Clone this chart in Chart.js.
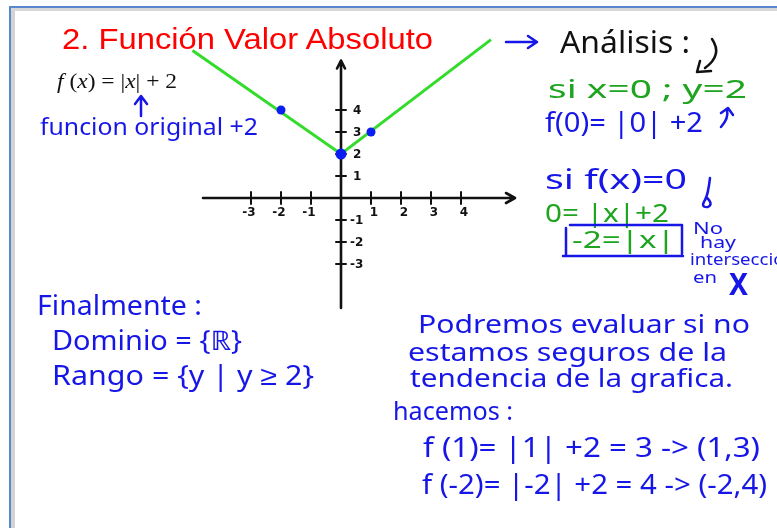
<!DOCTYPE html>
<html>
<head>
<meta charset="utf-8">
<script src="https://cdn.jsdelivr.net/npm/chart.js@4.4.1/dist/chart.umd.min.js"></script>
<style>
html, body { margin: 0; padding: 0; background: #fff; }
#wrap { position: relative; width: 777px; height: 528px; overflow: hidden; background: #fff; }
#board { position: absolute; left: 0; top: 0; }
#notes { position: absolute; left: 0; top: 0; pointer-events: none; }
.hand { font-family: "Noto Sans", sans-serif; }
.blue { fill: #1616e6; }
.green { fill: #1fa41f; }
.ink { fill: none; stroke-linecap: round; stroke-linejoin: round; }
</style>
</head>
<body>
<div id="wrap">
<canvas id="board" width="777" height="528"></canvas>
<svg id="notes" width="777" height="528" xmlns="http://www.w3.org/2000/svg">
  <!-- marco de la pizarra -->
  <line x1="10" y1="6" x2="10" y2="528" stroke="#5a88cf" stroke-width="2"/>
  <line x1="9" y1="7" x2="777" y2="7" stroke="#5a88cf" stroke-width="2"/>
  <line x1="13" y1="9" x2="13" y2="528" stroke="#d3d3d3" stroke-width="4"/>
  <line x1="11" y1="9.5" x2="777" y2="9.5" stroke="#d8d8d8" stroke-width="3"/>

  <text x="62" y="49" font-family="Liberation Sans" font-size="29" fill="#ff0000" textLength="371" lengthAdjust="spacingAndGlyphs">2. Función Valor Absoluto</text>
  <text x="57" y="88" font-family="Liberation Serif" font-size="21" fill="#111" textLength="120" lengthAdjust="spacingAndGlyphs"><tspan font-style="italic">f</tspan> (<tspan font-style="italic">x</tspan>) = |<tspan font-style="italic">x</tspan>| + 2</text>
  <path class="ink" d="M141 116 L141 97 M135 104 L141 96 L147 104" stroke="#1616e6" stroke-width="2.5"/>
  <text class="hand blue" x="40" y="135" font-size="23" textLength="218" lengthAdjust="spacingAndGlyphs">funcion original +2</text>

  <path class="ink" d="M506 42 L536 42 M528 36 L537 42 L528 48" stroke="#1616e6" stroke-width="2.5"/>
  <text class="hand" x="560" y="53" font-size="31" fill="#111" textLength="130" lengthAdjust="spacingAndGlyphs">Análisis :</text>
  <path class="ink" d="M712 39 Q723 55 705 68 M700 61 L697 72 L711 71" stroke="#111" stroke-width="2.5"/>

  <text class="hand green" x="548" y="98" font-size="25" textLength="199" lengthAdjust="spacingAndGlyphs">si  x=0 ; y=2</text>
  <text class="hand blue" x="545" y="132" font-size="27" textLength="158" lengthAdjust="spacingAndGlyphs">f(0)= |0| +2</text>
  <path class="ink" d="M721 127 Q729 118 727 110 M721 113 L728 108 L733 115" stroke="#1616e6" stroke-width="2.5"/>

  <text class="hand blue" x="545" y="189" font-size="27" textLength="142" lengthAdjust="spacingAndGlyphs">si f(x)=0</text>
  <path class="ink" d="M710 178 Q708 195 705 200 Q700 208 708 207 Q714 204 706 197" stroke="#1616e6" stroke-width="2.5"/>
  <text class="hand green" x="545" y="222" font-size="25" textLength="124" lengthAdjust="spacingAndGlyphs">0= |x|+2</text>
  <path class="ink" d="M570 225 L682 225 L682 254 M563 256 L683 256 M566 228 L566 256" stroke="#1616e6" stroke-width="2.5"/>
  <text class="hand green" x="572" y="248" font-size="23" textLength="103" lengthAdjust="spacingAndGlyphs">-2=|x|</text>

  <text class="hand blue" x="693" y="234" font-size="17" textLength="30" lengthAdjust="spacingAndGlyphs">No</text>
  <text class="hand blue" x="700" y="248" font-size="16" textLength="36" lengthAdjust="spacingAndGlyphs">hay</text>
  <text class="hand blue" x="690" y="265" font-size="16" textLength="106" lengthAdjust="spacingAndGlyphs">intersección</text>
  <text class="hand blue" x="693" y="283" font-size="17" textLength="24" lengthAdjust="spacingAndGlyphs">en</text>
  <text class="hand blue" x="729" y="295" font-size="31" font-weight="bold" textLength="19" lengthAdjust="spacingAndGlyphs">X</text>

  <text class="hand blue" x="37" y="315" font-size="27" textLength="165" lengthAdjust="spacingAndGlyphs">Finalmente :</text>
  <text class="hand blue" x="52" y="350" font-size="27" textLength="190" lengthAdjust="spacingAndGlyphs">Dominio = {ℝ}</text>
  <text class="hand blue" x="52" y="385" font-size="27" textLength="262" lengthAdjust="spacingAndGlyphs">Rango = {y | y ≥ 2}</text>

  <text class="hand blue" x="418" y="333" font-size="26" textLength="332" lengthAdjust="spacingAndGlyphs">Podremos evaluar si no</text>
  <text class="hand blue" x="408" y="361" font-size="26" textLength="319" lengthAdjust="spacingAndGlyphs">estamos seguros de la</text>
  <text class="hand blue" x="410" y="387" font-size="26" textLength="323" lengthAdjust="spacingAndGlyphs">tendencia de la grafica.</text>
  <text class="hand blue" x="393" y="420" font-size="26" textLength="120" lengthAdjust="spacingAndGlyphs">hacemos :</text>
  <text class="hand blue" x="423" y="457" font-size="28" textLength="337" lengthAdjust="spacingAndGlyphs">f (1)= |1| +2 = 3 -&gt; (1,3)</text>
  <text class="hand blue" x="422" y="494" font-size="28" textLength="345" lengthAdjust="spacingAndGlyphs">f (-2)= |-2| +2 = 4 -&gt; (-2,4)</text>
</svg>
</div>
<script>
// ticks of the hand-drawn axes
const tickValuesX = [-3, -2, -1, 1, 2, 3, 4];
const tickLabelsX = ['-3', '-2', '-1', '1', '2', '3', '4'];
const tickValuesY = [-3, -2, -1, 1, 2, 3, 4];
const tickLabelsY = ['-3', '-2', '-1', '1', '2', '3', '4'];

// points evaluated: (-2,4), (0,2), (1,3)
const pointX = [-2, 0, 1];
const pointY = [4, 2, 3];

// green V of f(x) = |x| + 2 as drawn
const lineX = [-4.95, 0, 5.0];
const lineY = [6.7, 2, 7.2];

const crossAxes = {
    id: 'crossAxes',
    beforeDatasetsDraw(chart) {
        const ctx = chart.ctx;
        const x = chart.scales.x, y = chart.scales.y;
        const x0 = x.getPixelForValue(0), y0 = y.getPixelForValue(0);
        const xl = x.getPixelForValue(x.min), xr = x.getPixelForValue(x.max);
        const yt = y.getPixelForValue(y.max), yb = y.getPixelForValue(y.min);
        ctx.save();
        ctx.strokeStyle = '#111';
        ctx.lineCap = 'round';
        ctx.lineJoin = 'round';
        ctx.lineWidth = 2.6;
        ctx.beginPath();
        ctx.moveTo(xl, y0); ctx.lineTo(xr, y0);
        ctx.moveTo(x0, yb); ctx.lineTo(x0, yt);
        ctx.moveTo(xr - 9, y0 - 5); ctx.lineTo(xr, y0); ctx.lineTo(xr - 9, y0 + 5);
        ctx.moveTo(x0 - 4, yt + 8); ctx.lineTo(x0, yt); ctx.lineTo(x0 + 4, yt + 8);
        ctx.stroke();

        ctx.lineWidth = 2;
        ctx.beginPath();
        tickValuesX.forEach(v => {
            const px = x.getPixelForValue(v);
            ctx.moveTo(px, y0 - 6); ctx.lineTo(px, y0 + 6);
        });
        tickValuesY.forEach(v => {
            const py = y.getPixelForValue(v);
            ctx.moveTo(x0 - 5, py); ctx.lineTo(x0 + 5, py);
        });
        ctx.stroke();

        ctx.fillStyle = '#111';
        ctx.font = 'bold 12px "DejaVu Sans"';
        ctx.textBaseline = 'middle';
        ctx.textAlign = 'center';
        tickValuesX.forEach((v, i) => {
            ctx.fillText(tickLabelsX[i], x.getPixelForValue(v) + (v > 0 ? 3 : -2), y0 + 15);
        });
        ctx.textAlign = 'left';
        tickValuesY.forEach((v, i) => {
            ctx.fillText(tickLabelsY[i], x0 + (v > 0 ? 12 : 9), y.getPixelForValue(v) + 1);
        });
        ctx.restore();
    }
};

new Chart(document.getElementById('board'), {
    type: 'scatter',
    data: {
        datasets: [{
            label: 'puntos',
            data: pointX.map((v, i) => ({ x: v, y: pointY[i] })),
            backgroundColor: '#0a1ef2',
            borderColor: '#0a1ef2',
            pointRadius: [4.5, 5.5, 4.5],
            pointBorderWidth: 0,
            clip: false
        }, {
            label: 'f(x) = |x| + 2',
            data: lineX.map((v, i) => ({ x: v, y: lineY[i] })),
            showLine: true,
            borderColor: '#33dc2b',
            borderWidth: 3,
            pointRadius: 0,
            clip: false
        }]
    },
    options: {
        responsive: false,
        animation: false,
        events: [],
        layout: { padding: { left: 203, right: 262, top: 60.5, bottom: 220 } },
        scales: {
            x: { type: 'linear', min: -4.6, max: 5.8, display: false },
            y: { type: 'linear', min: -5, max: 6.25, display: false }
        },
        plugins: {
            legend: { display: false },
            tooltip: { enabled: false }
        }
    },
    plugins: [crossAxes]
});
</script>
</body>
</html>
